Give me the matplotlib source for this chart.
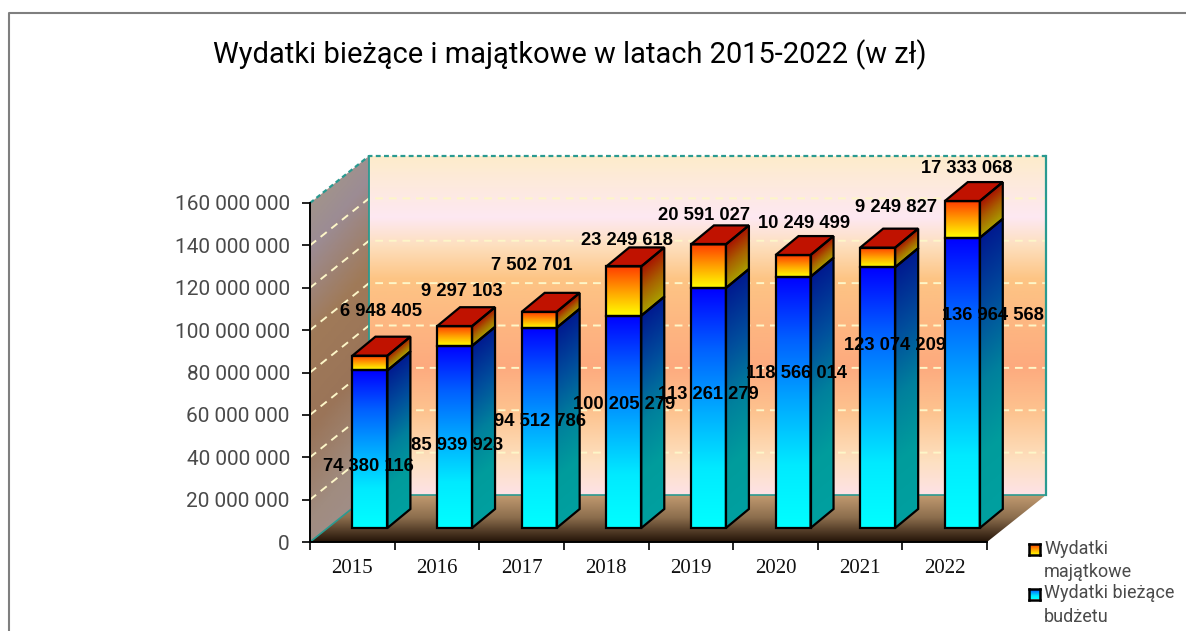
# -*- coding: utf-8 -*-
#
#   Pseudo 3D stacked bars: yearly budget spending

import numpy as np
import matplotlib
matplotlib.use('Agg')
import matplotlib.pyplot as plt
from matplotlib.colors import LinearSegmentedColormap
from matplotlib.patches import Polygon

years = ['2015', '2016', '2017', '2018', '2019', '2020', '2021', '2022']
wydatki_biezace = [74380116, 85939923, 94512786, 100205279, 113261279, 118566014, 123074209, 136964568]
wydatki_majatkowe = [6948405, 9297103, 7502701, 23249618, 20591027, 10249499, 9249827, 17333068]
y_ticks = [0, 20000000, 40000000, 60000000, 80000000, 100000000, 120000000, 140000000, 160000000]

# hand placed data labels in the original, offsets in pixels
blue_label_off = [(-2, -17), (2.5, -9), (1, 6), (0, 17), (0, 14), (3, 29), (17.5, 52), (31, 67)]
orange_label_off = [(10.6, 44), (7.5, 35), (-7.6, 46), (2.8, 26), (-4.8, 29), (10.6, 32), (18, 40), (4.9, 33)]

W, H = 1186, 631
X0, X1, Y0, Y1 = 310, 987, 542, 203  # front plane in pixels
Y_MAX = 160000000

# depth of the box and of the bars, in data units
slot_px = (X1 - X0) / len(years)
val_px = (Y0 - Y1) / Y_MAX
BOX_DX = 59 / slot_px
BOX_DY = 47 / val_px
BAR_W = 35 / slot_px
BAR_DX = 23 / slot_px
BAR_DY = 19 / val_px
BAR_SHIFT_X = 17.6 / slot_px
BAR_SHIFT_Y = 14 / val_px

WALL = [(0, '#fdeccb'), (0.18, '#fee8f2'), (0.26, '#fde0c0'), (0.36, '#fdc585'), (0.62, '#fdaa7e'),
        (0.76, '#fdc490'), (0.9, '#fde0c0'), (1, '#fee2e6')]
LEFT_WALL = ['#a89c82', '#9c8c94', '#a07a58', '#9a7458', '#a08c80', '#a09090']
FLOOR = ['#c49c72', '#8a6c4c', '#241408']
BLUE_FRONT = ['#0000ff', '#0060ff', '#00a8ff', '#00eaff', '#00ffff']
BLUE_SIDE = ['#001a90', '#004c9c', '#00809c', '#009c9c', '#00a0a0']
ORANGE_FRONT = ['#ff3c00', '#ffa000', '#ffff00']
ORANGE_SIDE = ['#a81000', '#a86000', '#a8a000']


def clip_to(img, poly):
    # images are clipped to the axes box by default, the box of this chart sticks out of it
    img.set_clip_box(img.get_figure().bbox)
    img.set_clip_path(poly)


def face(ax, x, y, w, h, dx, dy, stops, zorder, edge='black', lw=1.6):
    """Gradient parallelogram, gradient runs from y + h (stops[0]) down to y and follows the skew."""
    cmap = LinearSegmentedColormap.from_list('g', stops)
    u, v = np.meshgrid(np.linspace(0, 1, 40), np.linspace(1, 0, 256))
    t = 1 - (v * (h + dy) - u * dy) / h
    extent = (x, x + w + dx, y, y + h + dy)
    img = ax.imshow(np.clip(t, 0, 1), cmap=cmap, vmin=0, vmax=1, extent=extent, aspect='auto',
                    zorder=zorder, interpolation='bilinear')
    pts = [(x, y), (x + w + dx, y + dy), (x + w + dx, y + h + dy), (x, y + h)]
    if w > 0:
        pts = [(x, y), (x + w, y), (x + w, y + h), (x, y + h)]
    poly = Polygon(pts, closed=True, fc='none', ec=edge, lw=lw, zorder=zorder + 0.1, joinstyle='miter')
    ax.add_patch(poly)
    poly.set_clip_on(False)
    clip_to(img, poly)
    return poly


def main():
    plt.rcParams['font.family'] = ['Roboto', 'DejaVu Sans']
    fig = plt.figure(figsize=(W / 100, H / 100), dpi=100)

    # outer frame of the chart, only top and left are in the picture
    bg = fig.add_axes([0, 0, 1, 1], zorder=0)
    bg.set_xlim(0, W)
    bg.set_ylim(H, 0)
    bg.axis('off')
    bg.plot([9, 9, W], [H, 13, 13], color='#7f7f7f', lw=1.5)

    ax = fig.add_axes([X0 / W, 1 - Y0 / H, (X1 - X0) / W, (Y0 - Y1) / H], zorder=1)
    ax.patch.set_alpha(0)

    n = len(years)

    # back wall
    cmap = LinearSegmentedColormap.from_list('wall', WALL)
    ax.imshow(np.linspace(0, 1, 256).reshape(-1, 1), cmap=cmap, aspect='auto', zorder=1,
              extent=(BOX_DX, n + BOX_DX, BOX_DY, Y_MAX + BOX_DY), clip_on=False)

    # left wall, diagonal gradient
    cmap = LinearSegmentedColormap.from_list('left', LEFT_WALL)
    u, v = np.meshgrid(np.linspace(0, 1, 40), np.linspace(0, 1, 256))
    img = ax.imshow((v * 0.85 + u * 0.15), cmap=cmap, vmin=0, vmax=1, aspect='auto', zorder=1,
                    extent=(0, BOX_DX, 0, Y_MAX + BOX_DY))
    poly = Polygon([(0, 0), (BOX_DX, BOX_DY), (BOX_DX, Y_MAX + BOX_DY), (0, Y_MAX)], fc='none', ec='none')
    ax.add_patch(poly)
    clip_to(img, poly)

    # floor
    cmap = LinearSegmentedColormap.from_list('floor', FLOOR)
    img = ax.imshow(np.linspace(0, 1, 128).reshape(-1, 1), cmap=cmap, aspect='auto', zorder=1,
                    extent=(0, n + BOX_DX, 0, BOX_DY))
    poly = Polygon([(0, 0), (n, 0), (n + BOX_DX, BOX_DY), (BOX_DX, BOX_DY)], fc='none', ec='none')
    ax.add_patch(poly)
    clip_to(img, poly)

    # grid on both walls
    for tick in y_ticks[1:-1]:
        ax.plot([0, BOX_DX, n + BOX_DX], [tick, tick + BOX_DY, tick + BOX_DY], color='#fdf6c8',
                lw=1.4, ls=(0, (4, 3)), zorder=2, clip_on=False)

    # box edges
    teal = '#2a9a90'
    ax.plot([0, BOX_DX, n + BOX_DX], [Y_MAX, Y_MAX + BOX_DY, Y_MAX + BOX_DY], color=teal, lw=1.6,
            ls=(0, (2.2, 1.5)), zorder=2.5, clip_on=False)
    ax.plot([BOX_DX, BOX_DX], [BOX_DY, Y_MAX + BOX_DY], color=teal, lw=1.3, zorder=2.5, clip_on=False)
    ax.plot([n + BOX_DX, n + BOX_DX], [BOX_DY, Y_MAX + BOX_DY], color=teal, lw=1.6, zorder=2.5, clip_on=False)
    ax.plot([0, BOX_DX, n + BOX_DX], [0, BOX_DY, BOX_DY], color=teal, lw=1.2, zorder=2.5, clip_on=False)

    # bars, left to right so each one covers what lies behind it
    for i in range(n):
        x = i + 0.5 - BAR_W / 2 + BAR_SHIFT_X
        base = BAR_SHIFT_Y
        blue = wydatki_biezace[i]
        orange = wydatki_majatkowe[i]
        z = 3 + i * 0.01
        face(ax, x + BAR_W, base, 0, blue, BAR_DX, BAR_DY, BLUE_SIDE, z)
        face(ax, x + BAR_W, base + blue, 0, orange, BAR_DX, BAR_DY, ORANGE_SIDE, z)
        face(ax, x, base, BAR_W, blue, 0, 0, BLUE_FRONT, z + 0.002)
        face(ax, x, base + blue, BAR_W, orange, 0, 0, ORANGE_FRONT, z + 0.002)
        top = base + blue + orange
        ax.add_patch(Polygon([(x, top), (x + BAR_W, top), (x + BAR_W + BAR_DX, top + BAR_DY), (x + BAR_DX, top + BAR_DY)],
                             fc='#c01200', ec='black', lw=1.6, zorder=z + 0.004, clip_on=False))

    # data labels
    for i in range(n):
        cx = i + 0.5 + BAR_SHIFT_X
        blue = wydatki_biezace[i]
        orange = wydatki_majatkowe[i]
        ax.annotate(f'{blue:,}'.replace(',', ' '), (cx, BAR_SHIFT_Y + blue / 2), xytext=blue_label_off[i],
                    textcoords='offset pixels', ha='center', va='center', family='Liberation Sans',
                    weight='bold', fontsize=13.2, color='black', zorder=6, annotation_clip=False)
        ax.annotate(f'{orange:,}'.replace(',', ' '), (cx, BAR_SHIFT_Y + blue + orange), xytext=orange_label_off[i],
                    textcoords='offset pixels', ha='center', va='center', family='Liberation Sans',
                    weight='bold', fontsize=13.2, color='black', zorder=6, annotation_clip=False)

    ax.set_xlim(0, n)
    ax.set_ylim(0, Y_MAX)
    ax.set_xticks(range(n + 1))
    ax.set_xticklabels([])
    ax.set_xticks(np.arange(n) + 0.5, labels=years, minor=True)
    ax.tick_params(axis='x', which='minor', length=0, pad=12, labelsize=15, labelfontfamily='Liberation Serif',
                   labelcolor='#111111')
    ax.tick_params(axis='x', which='major', length=6, width=1.2)
    ax.set_yticks(y_ticks)
    ax.set_yticklabels([f'{t:,}'.replace(',', ' ') for t in y_ticks], fontweight='normal', color='#4a4a4a')
    ax.tick_params(axis='y', length=6, width=1.2, labelsize=15, pad=8.5)
    for side in ('top', 'right'):
        ax.spines[side].set_visible(False)
    for side in ('left', 'bottom'):
        ax.spines[side].set_linewidth(1.4)
        ax.spines[side].set_zorder(2.8)

    fig.text(570 / W, 1 - 55 / H, 'Wydatki bieżące i majątkowe w latach 2015-2022 (w zł)', ha='center', va='center',
             fontsize=20.9, fontweight='normal', color='black')

    # legend
    for py, stops, label in [(549.5, ORANGE_FRONT, 'Wydatki\nmajątkowe'), (594, BLUE_FRONT, 'Wydatki bieżące\nbudżetu')]:
        lax = fig.add_axes([1029 / W, 1 - (py + 5.5) / H, 11 / W, 11 / H], zorder=2)
        lax.imshow(np.linspace(0, 1, 32).reshape(-1, 1), cmap=LinearSegmentedColormap.from_list('l', stops), aspect='auto')
        lax.set_xticks([])
        lax.set_yticks([])
        for sp in lax.spines.values():
            sp.set_linewidth(1.8)
        fig.text(1044 / W, 1 - (py + 11) / H, label, ha='left', va='center', fontsize=13, fontweight='normal',
                 color='#4a4a4a', linespacing=1.39)

    fig.savefig('out.png', dpi=100)


if __name__ == '__main__':
    main()
